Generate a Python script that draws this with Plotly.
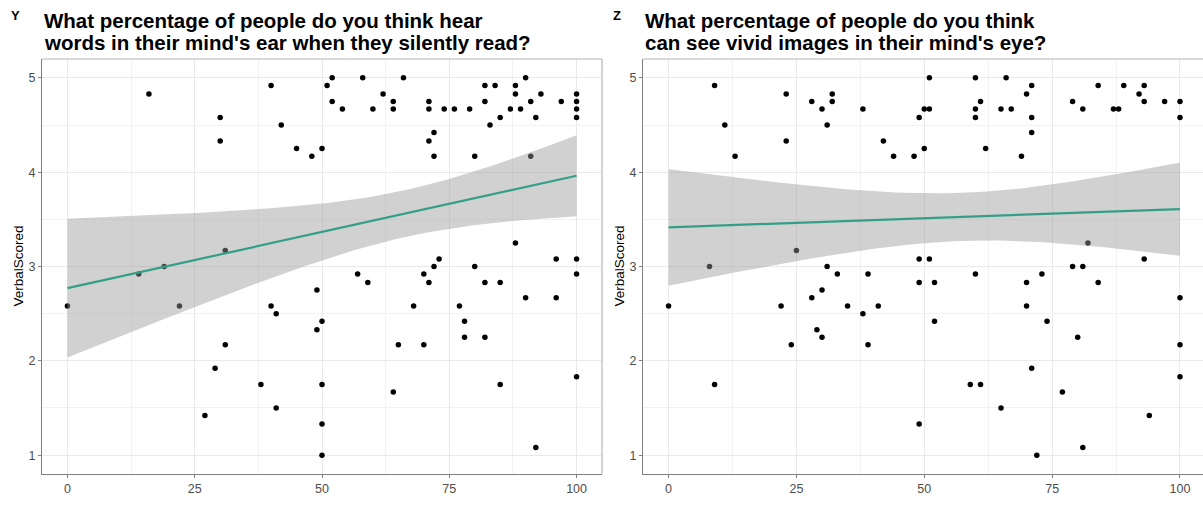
import numpy as np
import plotly.graph_objects as go

# Estimated share of people hearing an inner voice while reading (x) vs. own score (y)
ear_pct = [0, 14, 16, 19, 22, 27, 29, 30, 30, 31, 31, 38, 40, 40, 41, 41, 42, 45, 48, 49,
           49, 50, 50, 50, 50, 50, 51, 52, 52, 54, 57, 58, 59, 60, 62, 64, 64, 64, 65, 66,
           68, 70, 70, 71, 71, 71, 71, 72, 72, 72, 73, 74, 76, 77, 78, 78, 79, 80, 80, 82,
           82, 82, 82, 83, 84, 85, 85, 85, 87, 88, 88, 88, 89, 90, 90, 91, 91, 92, 92, 93,
           96, 96, 97, 100, 100, 100, 100, 100, 100, 100]
ear_score = [2.58, 2.92, 4.83, 3.00, 2.58, 1.42, 1.92, 4.58, 4.33, 3.17, 2.17, 1.75, 4.92, 2.58,
             2.50, 1.50, 4.50, 4.25, 4.17, 2.75, 2.33, 4.25, 2.42, 1.75, 1.33, 1.00, 4.92, 5.00,
             4.75, 4.67, 2.92, 5.00, 2.83, 4.67, 4.83, 4.75, 4.67, 1.67, 2.17, 5.00, 2.58, 2.92,
             2.17, 4.75, 4.67, 4.33, 2.83, 4.42, 4.17, 3.00, 3.08, 4.67, 4.67, 2.58, 2.42, 2.25,
             4.67, 4.17, 3.00, 4.92, 4.75, 2.83, 2.25, 4.50, 4.92, 4.58, 2.83, 1.75, 4.67, 4.92,
             4.83, 3.25, 4.67, 5.00, 2.67, 4.75, 4.17, 4.58, 1.08, 4.83, 3.08, 2.67, 4.75, 4.83,
             4.75, 4.67, 4.58, 3.08, 2.92, 1.83]

# Estimated share of people with vivid mental images (x) vs. own score (y)
eye_pct = [0, 8, 9, 9, 11, 13, 22, 23, 23, 24, 25, 28, 28, 29, 30, 30, 30, 31, 31, 32,
           32, 33, 35, 38, 38, 39, 39, 41, 42, 44, 48, 49, 49, 49, 49, 50, 50, 51, 51, 51,
           52, 52, 59, 60, 60, 60, 60, 61, 61, 62, 65, 65, 66, 67, 69, 70, 70, 70, 71, 71,
           71, 71, 72, 73, 74, 77, 79, 79, 80, 81, 81, 81, 82, 84, 84, 87, 88, 89, 92, 93,
           93, 93, 94, 97, 100, 100, 100, 100, 100]
eye_score = [2.58, 3.00, 4.92, 1.75, 4.50, 4.17, 2.58, 4.83, 4.33, 2.17, 3.17, 4.75, 2.67, 2.33,
             4.67, 2.75, 2.25, 4.50, 3.00, 4.83, 4.75, 2.92, 2.58, 4.67, 2.50, 2.92, 2.17, 2.58,
             4.33, 4.17, 4.17, 4.58, 3.08, 2.83, 1.33, 4.67, 4.25, 5.00, 4.67, 3.08, 2.83, 2.42,
             1.75, 5.00, 4.67, 4.58, 2.92, 4.75, 1.75, 4.25, 4.67, 1.50, 5.00, 4.67, 4.17, 4.83,
             2.83, 2.58, 4.92, 4.58, 4.42, 1.92, 1.00, 2.92, 2.42, 1.67, 4.75, 3.00, 2.25, 4.67,
             3.00, 1.08, 3.25, 4.92, 2.83, 4.67, 4.67, 4.92, 4.83, 4.92, 4.75, 3.08, 1.42, 4.75,
             4.75, 4.58, 2.67, 2.17, 1.83]

title_lines = [
    ["What percentage of people do you think hear",
     "words in their mind's ear when they silently read?"],
    ["What percentage of people do you think",
     "can see vivid images in their mind's eye?"],
]
tags = ["Y", "Z"]
y_title = "VerbalScored"
x_ticks = [0, 25, 50, 75, 100]
y_ticks = [1, 2, 3, 4, 5]

W, H = 1203, 506
LINE = "#339F86"
BAND = "rgba(153,153,153,0.45)"
GRID = "#E9E9E9"
MINOR = "#F2F2F2"
AXIS = "#808080"
BORDER = "#B5B5B5"
FONT = "Liberation Sans, Arial, sans-serif"


def t_quantile(df, z=1.959964):
    # Cornish-Fisher expansion of the Student t 97.5% quantile
    return (z + (z**3 + z) / (4 * df) + (5 * z**5 + 16 * z**3 + 3 * z) / (96 * df**2)
            + (3 * z**7 + 19 * z**5 + 17 * z**3 - 15 * z) / (384 * df**3))


def lm_band(x, y, n_grid=80):
    x = np.asarray(x, float)
    y = np.asarray(y, float)
    n = len(x)
    xb = x.mean()
    sxx = ((x - xb) ** 2).sum()
    b = ((x - xb) * (y - y.mean())).sum() / sxx
    a = y.mean() - b * xb
    resid = y - (a + b * x)
    s = np.sqrt((resid ** 2).sum() / (n - 2))
    g = np.linspace(x.min(), x.max(), n_grid)
    fit = a + b * g
    se = s * np.sqrt(1.0 / n + (g - xb) ** 2 / sxx)
    t = t_quantile(n - 2)
    return g, fit, fit - t * se, fit + t * se


fig = go.Figure()

px = lambda v: v / W
py = lambda v: 1 - v / H

panels = [
    dict(x=ear_pct, y=ear_score, dom=[px(42), px(602)], xr=[-5, 105], xa="x", ya="y", tx=18),
    dict(x=eye_pct, y=eye_score, dom=[px(643), 1.0], xr=[-5, 104.5], xa="x2", ya="y2", tx=619),
]
ydom = [py(474), py(59)]

for i, p in enumerate(panels):
    g, fit, lo, hi = lm_band(p["x"], p["y"])
    fig.add_trace(go.Scatter(x=p["x"], y=p["y"], mode="markers", xaxis=p["xa"], yaxis=p["ya"],
                             marker=dict(color="black", size=5.5, line=dict(width=0)),
                             showlegend=False, hoverinfo="skip"))
    fig.add_trace(go.Scatter(x=np.concatenate([g, g[::-1]]), y=np.concatenate([hi, lo[::-1]]),
                             fill="toself", fillcolor=BAND, line=dict(width=0),
                             mode="lines", xaxis=p["xa"], yaxis=p["ya"],
                             showlegend=False, hoverinfo="skip"))
    fig.add_trace(go.Scatter(x=g, y=fit, mode="lines", line=dict(color=LINE, width=2.2),
                             xaxis=p["xa"], yaxis=p["ya"], showlegend=False, hoverinfo="skip"))

    sfx = "" if i == 0 else str(i + 1)
    fig.update_layout(**{
        "xaxis" + sfx: dict(domain=p["dom"], range=p["xr"], anchor=p["ya"],
                            tickvals=x_ticks, ticktext=[str(v) for v in x_ticks],
                            showgrid=True, gridcolor=GRID, gridwidth=1,
                            minor=dict(tickvals=[12.5, 37.5, 62.5, 87.5], showgrid=True,
                                       gridcolor=MINOR, gridwidth=1, ticks=""),
                            zeroline=False, showline=True, linecolor=AXIS, linewidth=1,
                            ticks="outside", ticklen=3, tickcolor=AXIS, tickwidth=1,
                            tickfont=dict(family=FONT, size=12.5, color="#4D4D4D")),
        "yaxis" + sfx: dict(domain=ydom, range=[0.8, 5.2], anchor=p["xa"],
                            tickvals=y_ticks, ticktext=[str(v) for v in y_ticks],
                            showgrid=True, gridcolor=GRID, gridwidth=1,
                            minor=dict(tickvals=[1.5, 2.5, 3.5, 4.5], showgrid=True,
                                       gridcolor=MINOR, gridwidth=1, ticks=""),
                            zeroline=False, showline=True, linecolor=AXIS, linewidth=1,
                            ticks="outside", ticklen=3, tickcolor=AXIS, tickwidth=1,
                            tickfont=dict(family=FONT, size=12.5, color="#4D4D4D")),
    })
    # y axis title, rotated and centred on the panel
    fig.add_annotation(x=px(p["tx"]), y=(ydom[0] + ydom[1]) / 2, xref="paper", yref="paper",
                       xanchor="center", yanchor="middle", textangle=-90, showarrow=False,
                       text=y_title, font=dict(family=FONT, size=13.5, color="black"))
    # top and right edges of the panel frame
    fig.add_shape(type="line", xref="paper", yref="paper", x0=p["dom"][0], x1=p["dom"][1],
                  y0=ydom[1], y1=ydom[1], line=dict(color=BORDER, width=1.2))
    if p["dom"][1] < 1:
        fig.add_shape(type="line", xref="paper", yref="paper", x0=p["dom"][1], x1=p["dom"][1],
                      y0=ydom[0], y1=ydom[1], line=dict(color=BORDER, width=1.2))
    # panel title (two lines) and tag
    for k, line in enumerate(title_lines[i]):
        fig.add_annotation(x=p["dom"][0], y=py(7 + 22 * k), xref="paper", yref="paper",
                           xanchor="left", yanchor="top", align="left", showarrow=False,
                           text="<b>%s</b>" % line,
                           font=dict(family=FONT, size=20.5, color="black"))
    fig.add_annotation(x=px(9 if i == 0 else 611), y=py(6), xref="paper", yref="paper",
                       xanchor="left", yanchor="top", showarrow=False, text="<b>%s</b>" % tags[i],
                       font=dict(family=FONT, size=13, color="black"))

fig.update_layout(width=W, height=H, margin=dict(l=0, r=0, t=0, b=0),
                  paper_bgcolor="white", plot_bgcolor="white", showlegend=False)

fig.write_html("out.html")
